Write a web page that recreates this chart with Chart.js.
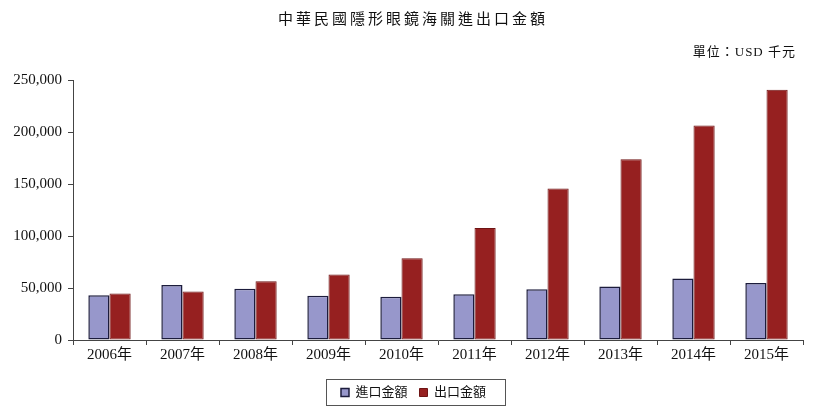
<!DOCTYPE html>
<html><head><meta charset="utf-8">
<script src="https://cdn.jsdelivr.net/npm/chart.js@4.4.1/dist/chart.umd.min.js"></script>
<style>html,body{margin:0;padding:0;background:#fff}#wrap{width:820px;height:409px;position:relative}</style>
</head><body><div id="wrap"><canvas id="c"></canvas></div>
<script>
const categories = ['2006年','2007年','2008年','2009年','2010年','2011年','2012年','2013年','2014年','2015年'];
const importValues = [43000,53000,49300,42500,41600,44100,48900,51400,59200,54700];
const exportValues = [44700,46600,56600,63000,78500,107800,145700,173700,206200,240600];
const yTicks = [0,50000,100000,150000,200000,250000];
const seriesNames = ['進口金額','出口金額'];
const titleText = '中華民國隱形眼鏡海關進出口金額';
const unitText = '單位：USD 千元';

const FONT = "'Liberation Serif','Noto Sans CJK TC',serif";

const decor = {
  id: 'decor',
  afterLayout(chart) {
    const lg = chart.legend;
    if (lg) { lg.left += 12; lg.right += 12; }
  },
  afterDraw(chart) {
    const ctx = chart.ctx;
    ctx.save();
    ctx.fillStyle = '#111';
    ctx.textBaseline = 'middle';
    ctx.font = '15px ' + FONT;
    ctx.textAlign = 'center';
    if ('letterSpacing' in ctx) ctx.letterSpacing = '3px';
    ctx.fillText(titleText, 413, 20);
    ctx.font = '13px ' + FONT;
    ctx.textAlign = 'right';
    if ('letterSpacing' in ctx) ctx.letterSpacing = '1px';
    ctx.fillText(unitText, 796, 53);
    ctx.restore();
    // legend border
    const lg = chart.legend;
    if (lg && lg.legendHitBoxes && lg.legendHitBoxes.length) {
      const hb = lg.legendHitBoxes;
      let l = Infinity, r = -Infinity, t = Infinity, b = -Infinity;
      hb.forEach(h => { l = Math.min(l, h.left); r = Math.max(r, h.left + h.width); t = Math.min(t, h.top); b = Math.max(b, h.top + h.height); });
      ctx.save();
      ctx.strokeStyle = '#555';
      ctx.lineWidth = 1;
      ctx.strokeRect(Math.round(l - 15) + 0.5, Math.round(t - 7) + 0.5, Math.round(r - l + 34), Math.round(b - t + 13));
      ctx.restore();
    }
  }
};

new Chart(document.getElementById('c'), {
  type: 'bar',
  data: {
    labels: categories,
    datasets: [
      { label: seriesNames[0], data: importValues, backgroundColor: '#9797cb', borderColor: '#1c1c3c', borderWidth: 1.5, borderSkipped: false },
      { label: seriesNames[1], data: exportValues, backgroundColor: '#962020', borderColor: '#6e1414', borderWidth: 1, borderSkipped: false }
    ]
  },
  options: {
    responsive: true,
    maintainAspectRatio: false,
    animation: false,
    layout: { padding: { top: 80, right: 17, left: 0, bottom: 0 } },
    datasets: { bar: { categoryPercentage: 0.58, barPercentage: 1.0 } },
    plugins: {
      title: { display: false },
      tooltip: { enabled: false },
      legend: {
        position: 'bottom',
        labels: { boxWidth: 8, boxHeight: 8, padding: 12, color: '#111', font: { size: 13, family: FONT } }
      }
    },
    scales: {
      x: {
        offset: true,
        afterFit(s) { s.height += 9; },
        grid: { display: true, drawOnChartArea: false, drawTicks: true, tickLength: 5, offset: true, color: '#444' },
        border: { display: true, color: '#444', width: 1 },
        ticks: { color: '#111', font: { size: 15, family: FONT }, padding: 1, maxRotation: 0 }
      },
      y: {
        min: 0, max: 250000,
        afterFit(s) { s.width = 73; },
        afterBuildTicks(s) { s.ticks = yTicks.map(v => ({ value: v })); },
        grid: { display: true, drawOnChartArea: false, drawTicks: true, tickLength: 5, color: '#444' },
        border: { display: true, color: '#444', width: 1 },
        ticks: { color: '#111', font: { size: 15, family: FONT }, padding: 6, callback: v => v.toLocaleString('en-US') }
      }
    }
  },
  plugins: [decor]
});
</script></body></html>
